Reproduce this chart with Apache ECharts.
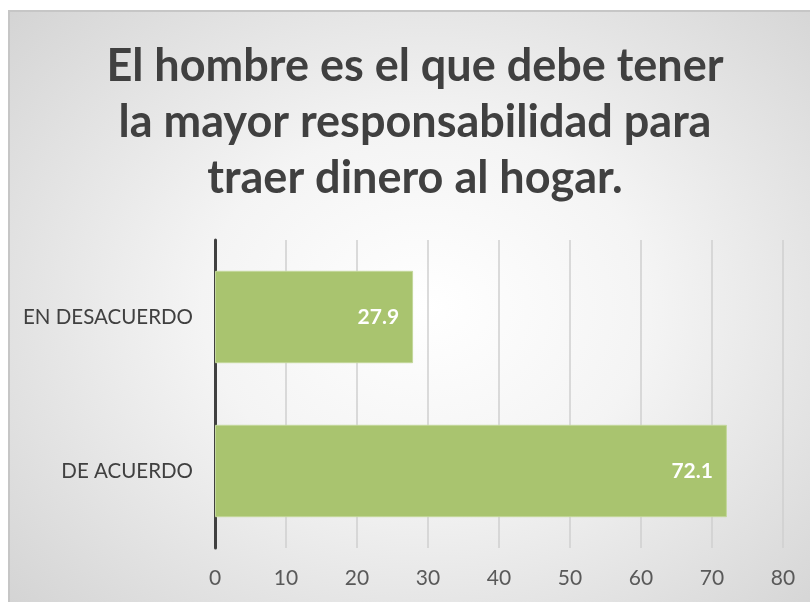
<!DOCTYPE html>
<html><head><meta charset="utf-8">
<script src="https://cdn.jsdelivr.net/npm/echarts@6/dist/echarts.min.js"></script>
<style>
html,body{margin:0;padding:0;background:#fff;width:810px;height:602px;overflow:hidden}
#c{position:absolute;left:8px;top:10px;width:802px;height:592px;
background:radial-gradient(ellipse 70% 75% at 52% 50%, #ffffff 0%, #f4f4f4 40%, #d4d4d4 100%);
border-top:2px solid #c6c6c6;border-left:2px solid #c6c6c6;box-sizing:border-box}
</style></head><body>
<div id="c"></div>
<script>
const titleText = "El hombre es el que debe tener\nla mayor responsabilidad para\ntraer dinero al hogar.";
const categories = ["DE ACUERDO", "EN DESACUERDO"];
const values = [72.1, 27.9];
const xMin = 0, xMax = 80, xStep = 10;

const chart = echarts.init(document.getElementById('c'));
chart.setOption({
  animation: false,
  title: {
    text: titleText,
    left: 400, top: 21, textAlign: 'center',
    textStyle: {fontFamily: 'Lato', fontWeight: 'bold', fontSize: 45, lineHeight: 56, color: '#404040'}
  },
  grid: {left: 205, right: 27, top: 228, bottom: 54},
  xAxis: {
    type: 'value', min: xMin, max: xMax, interval: xStep,
    axisLine: {show: false}, axisTick: {show: false},
    splitLine: {lineStyle: {color: '#cfcfcf', width: 1.5}},
    axisLabel: {fontFamily: 'Lato', fontSize: 21, color: '#595959', margin: 20}
  },
  yAxis: {
    type: 'category', data: categories,
    axisLine: {lineStyle: {color: '#404040', width: 3}},
    axisTick: {show: false},
    axisLabel: {fontFamily: 'Lato', fontSize: 20.5, color: '#404040', margin: 22}
  },
  series: [{
    type: 'bar', data: values, barCategoryGap: '40%',
    itemStyle: {color: '#a9c46f', borderColor: '#c3d79b', borderWidth: 1},
    label: {show: true, position: 'insideRight', distance: 14, color: '#ffffff',
      fontFamily: 'Lato', fontWeight: 'bold', fontSize: 21}
  }]
});
</script></body></html>
